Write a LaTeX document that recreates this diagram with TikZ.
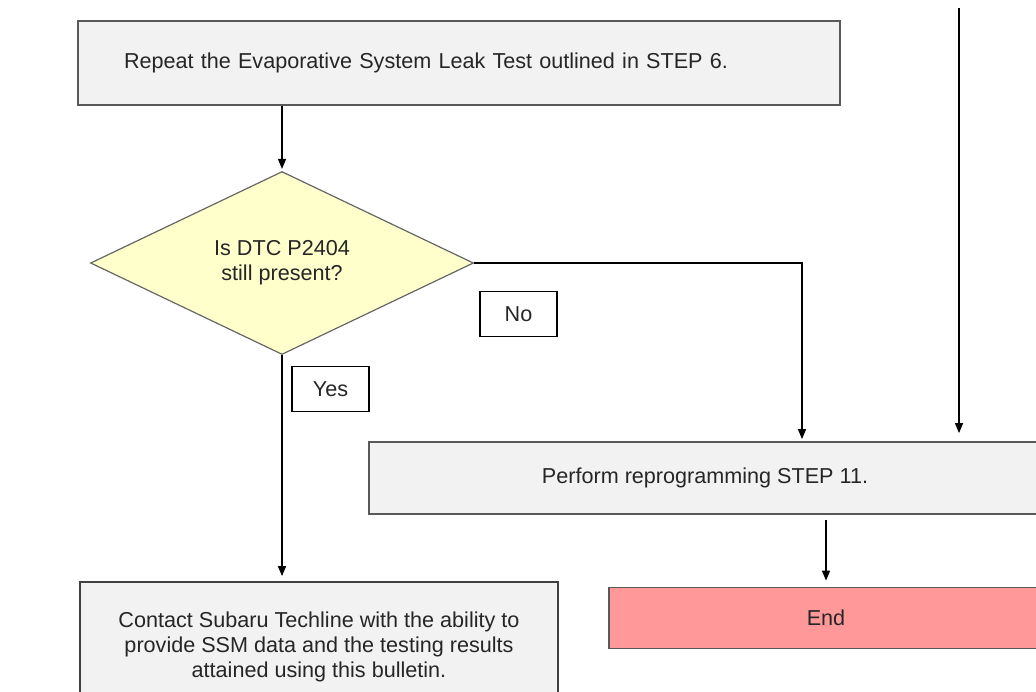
\documentclass[tikz,border=0pt]{standalone}
\usepackage{fontspec}
\setmainfont{Liberation Sans}
\usetikzlibrary{arrows.meta,shapes.geometric}
\definecolor{boxgray}{HTML}{F2F2F2}
\definecolor{askyellow}{HTML}{FFFFCC}
\definecolor{endpink}{HTML}{FF9999}
\tikzset{
flow/.style={x=0.5pt,y=-0.5pt,>={Triangle[length=5pt,width=4pt]},
font=\fontsize{10.8}{12.5}\selectfont,text=black!85},
stepbox/.style={rectangle,draw=black!65,line width=0.9pt,fill=boxgray,
inner sep=0pt,align=center},
question/.style={diamond,draw=black!60,line width=0.6pt,fill=askyellow,
aspect=2.09,inner sep=0pt,minimum width=191.5pt,minimum height=91.5pt,align=center},
answer/.style={rectangle,draw=black,line width=0.6pt,fill=white,
minimum width=38.5pt,minimum height=22.5pt},
finish/.style={stepbox,fill=endpink},
link/.style={->,line width=0.7pt},
}
\begin{document}
\begin{tikzpicture}[flow]
\useasboundingbox (0,0) rectangle (1036,691);
\clip (0,0) rectangle (1036,691);

\node[stepbox,text width=381pt,align=left,minimum height=42pt] (repeat) at (459,63)
  {\hspace*{23pt}Repeat the Evaporative System Leak Test outlined in STEP 6.};
\node[question] (dtc) at (282,263) {Is DTC P2404\\still present?};
\node[stepbox,minimum width=336pt,minimum height=36pt] (reprog) at (705,478)
  {Perform reprogramming STEP 11.};
\node[finish,minimum width=217pt,minimum height=30.5pt] (done) at (826,618) {End};
\node[stepbox,draw=black!75,minimum width=239pt,minimum height=65pt] (techline) at (319,647)
  {Contact Subaru Techline with the ability to\\provide SSM data and the testing results\\attained using this bulletin.};
\node[answer] (no) at (518.5,314) {No};
\node[answer] (yes) at (330.5,389) {Yes};

\coordinate (noturn) at (802,263);
\coordinate (fromabove) at (959,8);

\draw[link,shorten >=1pt] (repeat.south -| dtc.north) -- (dtc.north);
\draw[link,shorten >=1pt] (dtc.east) -- (noturn) -- (noturn |- reprog.north);
\draw[link,shorten >=4pt] (fromabove) -- (fromabove |- reprog.north);
\draw[link,shorten <=2.5pt,shorten >=3pt] (reprog.south -| done.north) -- (done.north);
\draw[link,shorten >=2.5pt] (dtc.south) -- (dtc.south |- techline.north);

\end{tikzpicture}
\end{document}
